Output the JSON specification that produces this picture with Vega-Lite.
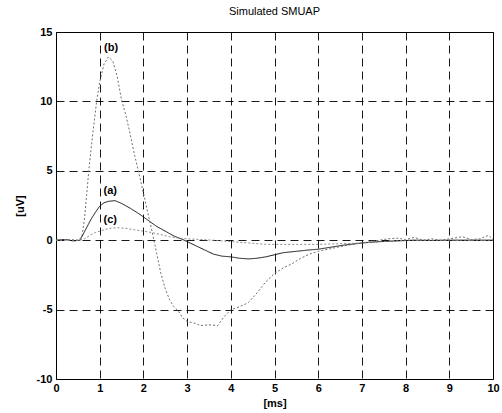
{
  "$schema": "https://vega.github.io/schema/vega-lite/v6.json",
  "autosize": "none",
  "width": 437,
  "height": 347,
  "padding": {"left": 56, "top": 32, "right": 9, "bottom": 34},
  "background": "white",
  "config": {
    "view": {"stroke": "black", "strokeWidth": 1},
    "font": "Liberation Sans"
  },
  "title": {"text": "Simulated SMUAP", "fontSize": 11, "fontWeight": "normal", "font": "Liberation Sans", "color": "black", "offset": 9},
  "datasets": {
    "curves": [
      {"x":0,"y":0,"s":"a"},{"x":0.2,"y":0.05,"s":"a"},{"x":0.4,"y":-0.05,"s":"a"},{"x":0.55,"y":0,"s":"a"},{"x":0.6,"y":0.3,"s":"a"},{"x":0.7,"y":0.9,"s":"a"},{"x":0.8,"y":1.5,"s":"a"},{"x":0.9,"y":2.0,"s":"a"},{"x":1.0,"y":2.45,"s":"a"},{"x":1.1,"y":2.7,"s":"a"},{"x":1.2,"y":2.8,"s":"a"},{"x":1.35,"y":2.85,"s":"a"},{"x":1.5,"y":2.65,"s":"a"},{"x":1.7,"y":2.3,"s":"a"},{"x":1.9,"y":1.9,"s":"a"},{"x":2.1,"y":1.45,"s":"a"},{"x":2.3,"y":1.0,"s":"a"},{"x":2.5,"y":0.65,"s":"a"},{"x":2.7,"y":0.3,"s":"a"},{"x":2.9,"y":0.05,"s":"a"},{"x":3.0,"y":-0.1,"s":"a"},{"x":3.2,"y":-0.4,"s":"a"},{"x":3.4,"y":-0.7,"s":"a"},{"x":3.6,"y":-1.0,"s":"a"},{"x":3.8,"y":-1.15,"s":"a"},{"x":4.0,"y":-1.2,"s":"a"},{"x":4.2,"y":-1.3,"s":"a"},{"x":4.4,"y":-1.35,"s":"a"},{"x":4.6,"y":-1.3,"s":"a"},{"x":4.8,"y":-1.2,"s":"a"},{"x":5.0,"y":-1.05,"s":"a"},{"x":5.2,"y":-0.9,"s":"a"},{"x":5.5,"y":-0.8,"s":"a"},{"x":5.8,"y":-0.7,"s":"a"},{"x":6.0,"y":-0.65,"s":"a"},{"x":6.3,"y":-0.5,"s":"a"},{"x":6.6,"y":-0.35,"s":"a"},{"x":7.0,"y":-0.2,"s":"a"},{"x":7.4,"y":-0.1,"s":"a"},{"x":7.8,"y":-0.05,"s":"a"},{"x":8.2,"y":0,"s":"a"},{"x":8.6,"y":-0.02,"s":"a"},{"x":9.0,"y":0,"s":"a"},{"x":9.5,"y":0,"s":"a"},{"x":10,"y":0,"s":"a"},
      {"x":0,"y":0,"s":"b"},{"x":0.3,"y":0.05,"s":"b"},{"x":0.5,"y":0,"s":"b"},{"x":0.55,"y":0.1,"s":"b"},{"x":0.6,"y":0.4,"s":"b"},{"x":0.65,"y":1.5,"s":"b"},{"x":0.7,"y":3.2,"s":"b"},{"x":0.75,"y":5.0,"s":"b"},{"x":0.8,"y":6.5,"s":"b"},{"x":0.85,"y":7.9,"s":"b"},{"x":0.93,"y":10.0,"s":"b"},{"x":1.0,"y":11.4,"s":"b"},{"x":1.1,"y":12.7,"s":"b"},{"x":1.2,"y":13.2,"s":"b"},{"x":1.3,"y":12.9,"s":"b"},{"x":1.4,"y":11.8,"s":"b"},{"x":1.5,"y":10.1,"s":"b"},{"x":1.6,"y":9.0,"s":"b"},{"x":1.7,"y":7.6,"s":"b"},{"x":1.8,"y":6.1,"s":"b"},{"x":1.9,"y":4.8,"s":"b"},{"x":2.0,"y":3.4,"s":"b"},{"x":2.1,"y":2.0,"s":"b"},{"x":2.2,"y":0.6,"s":"b"},{"x":2.3,"y":-0.9,"s":"b"},{"x":2.4,"y":-2.4,"s":"b"},{"x":2.5,"y":-3.5,"s":"b"},{"x":2.6,"y":-4.3,"s":"b"},{"x":2.7,"y":-4.8,"s":"b"},{"x":2.8,"y":-5.1,"s":"b"},{"x":2.9,"y":-5.6,"s":"b"},{"x":3.0,"y":-5.85,"s":"b"},{"x":3.2,"y":-6.0,"s":"b"},{"x":3.3,"y":-6.15,"s":"b"},{"x":3.5,"y":-6.1,"s":"b"},{"x":3.7,"y":-6.15,"s":"b"},{"x":3.85,"y":-5.5,"s":"b"},{"x":4.0,"y":-5.0,"s":"b"},{"x":4.2,"y":-4.8,"s":"b"},{"x":4.4,"y":-4.5,"s":"b"},{"x":4.6,"y":-3.8,"s":"b"},{"x":4.8,"y":-3.0,"s":"b"},{"x":5.0,"y":-2.4,"s":"b"},{"x":5.2,"y":-2.0,"s":"b"},{"x":5.4,"y":-1.7,"s":"b"},{"x":5.6,"y":-1.3,"s":"b"},{"x":5.8,"y":-1.0,"s":"b"},{"x":6.0,"y":-0.8,"s":"b"},{"x":6.3,"y":-0.6,"s":"b"},{"x":6.6,"y":-0.4,"s":"b"},{"x":7.0,"y":-0.2,"s":"b"},{"x":7.3,"y":-0.05,"s":"b"},{"x":7.6,"y":0.1,"s":"b"},{"x":7.8,"y":0.15,"s":"b"},{"x":8.0,"y":0.05,"s":"b"},{"x":8.2,"y":0.2,"s":"b"},{"x":8.4,"y":0.0,"s":"b"},{"x":8.6,"y":0.1,"s":"b"},{"x":8.8,"y":0.0,"s":"b"},{"x":9.0,"y":0.1,"s":"b"},{"x":9.3,"y":0.25,"s":"b"},{"x":9.5,"y":0.05,"s":"b"},{"x":9.7,"y":0.1,"s":"b"},{"x":9.9,"y":0.35,"s":"b"},{"x":10,"y":0.05,"s":"b"},
      {"x":0,"y":0,"s":"c"},{"x":0.55,"y":0,"s":"c"},{"x":0.65,"y":0.1,"s":"c"},{"x":0.8,"y":0.4,"s":"c"},{"x":0.9,"y":0.55,"s":"c"},{"x":1.0,"y":0.65,"s":"c"},{"x":1.2,"y":0.85,"s":"c"},{"x":1.4,"y":0.9,"s":"c"},{"x":1.6,"y":0.85,"s":"c"},{"x":1.8,"y":0.75,"s":"c"},{"x":2.0,"y":0.65,"s":"c"},{"x":2.2,"y":0.55,"s":"c"},{"x":2.4,"y":0.4,"s":"c"},{"x":2.6,"y":0.25,"s":"c"},{"x":2.8,"y":0.15,"s":"c"},{"x":3.0,"y":0.1,"s":"c"},{"x":3.3,"y":0.05,"s":"c"},{"x":3.6,"y":0,"s":"c"},{"x":4.0,"y":-0.1,"s":"c"},{"x":4.4,"y":-0.2,"s":"c"},{"x":4.8,"y":-0.3,"s":"c"},{"x":5.4,"y":-0.3,"s":"c"},{"x":6.0,"y":-0.3,"s":"c"},{"x":6.5,"y":-0.25,"s":"c"},{"x":7.0,"y":-0.2,"s":"c"},{"x":7.5,"y":-0.1,"s":"c"},{"x":8.0,"y":0,"s":"c"},{"x":8.5,"y":0,"s":"c"},{"x":9.0,"y":0,"s":"c"},{"x":9.5,"y":0,"s":"c"},{"x":10,"y":0,"s":"c"}
    ],
    "labels": [
      {"x":1.26,"y":13.87,"t":"(b)"},
      {"x":1.24,"y":3.54,"t":"(a)"},
      {"x":1.24,"y":1.44,"t":"(c)"}
    ]
  },
  "layer": [
    {
      "data": {"name": "curves"},
      "mark": {"type": "line", "strokeWidth": 1, "clip": true},
      "encoding": {
        "x": {"field": "x", "type": "quantitative", "scale": {"domain": [0, 10], "nice": false},
          "axis": {"values": [0,1,2,3,4,5,6,7,8,9,10], "title": "[ms]", "titleFontSize": 11, "titleFontWeight": "bold", "titleColor": "black", "titlePadding": 4,
            "labelFontSize": 11, "labelFontWeight": "bold", "labelColor": "black", "labelPadding": 3, "labelFlush": false,
            "ticks": false, "domain": false, "grid": true, "gridColor": "black", "gridDash": [8, 5], "gridOpacity": 0.9, "gridWidth": 1}},
        "y": {"field": "y", "type": "quantitative", "scale": {"domain": [-10, 15], "nice": false},
          "axis": {"values": [-10,-5,0,5,10,15], "labelExpr": "toString(datum.value)", "title": "[uV]", "titleFontSize": 11, "titleFontWeight": "bold", "titleColor": "black", "titlePadding": 11,
            "labelFontSize": 11, "labelFontWeight": "bold", "labelColor": "black", "labelPadding": 4, "labelFlush": false,
            "ticks": false, "domain": false, "grid": true, "gridColor": "black", "gridDash": [8, 5], "gridOpacity": 0.9, "gridWidth": 1}},
        "detail": {"field": "s"},
        "color": {"field": "s", "type": "nominal", "scale": {"domain": ["a","b","c"], "range": ["#111111", "#6e6e6e", "#8a8a8a"]}, "legend": null},
        "strokeDash": {"field": "s", "type": "nominal", "scale": {"domain": ["a","b","c"], "range": [[1,0],[2,2],[2,2]]}, "legend": null}
      }
    },
    {
      "data": {"name": "labels"},
      "mark": {"type": "text", "fontSize": 11, "fontWeight": "bold", "color": "black", "font": "Liberation Sans"},
      "encoding": {
        "x": {"field": "x", "type": "quantitative"},
        "y": {"field": "y", "type": "quantitative"},
        "text": {"field": "t"}
      }
    }
  ]
}
